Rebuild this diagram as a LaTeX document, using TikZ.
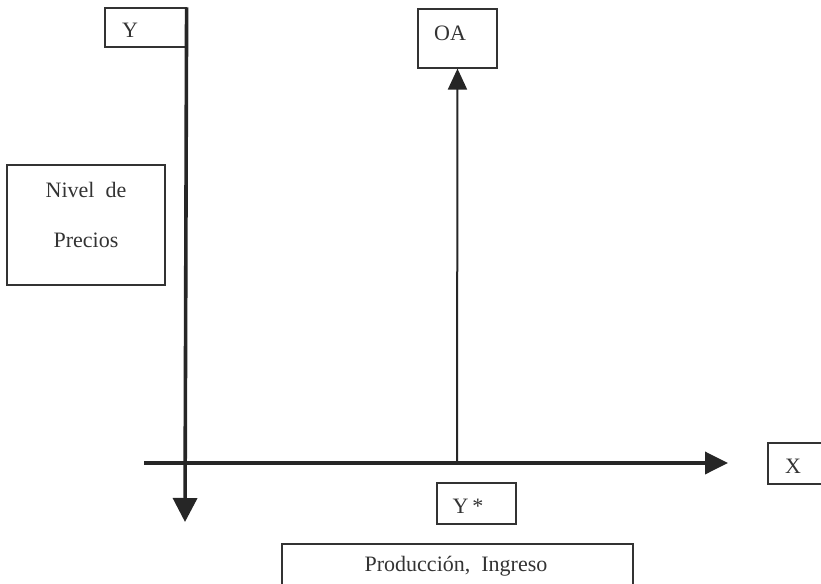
\documentclass[tikz,border=0pt]{standalone}
\usepackage{fontspec}
\setmainfont{Liberation Serif}
\usetikzlibrary{arrows.meta}
\begin{document}
\begin{tikzpicture}[x=1pt,y=-1pt,
  box/.style={draw=black!80,line width=1.2pt,rectangle,inner sep=0pt},
  lbl/.style={inner sep=0pt,font=\fontsize{22}{26}\selectfont,text=black!80},
  axis/.style={line width=3.6pt,draw=black!85},
  thin/.style={line width=2pt,draw=black!85}]
\useasboundingbox (0,0) rectangle (821,583);
% boxes
\node[box,minimum width=81pt,minimum height=39pt] (ybox) at (145.5,27.5) {};
\node[box,minimum width=79pt,minimum height=59pt] (oabox) at (457.5,38.5) {};
\node[box,minimum width=158pt,minimum height=120pt] (nivel) at (86,225) {};
\node[box,minimum width=62pt,minimum height=41pt] (xbox) at (799,463.5) {};
\node[box,minimum width=79pt,minimum height=41pt] (ystar) at (476.5,503.5) {};
\node[box,minimum width=351pt,minimum height=51pt] (prod) at (457.5,569.5) {};
% labels
\node[lbl] (ylbl) at (130,30.5) {Y};
\node[lbl] (oalbl) at (450,33) {OA};
\node[lbl] (nivl1) at (86,190) {Nivel\ \ de};
\node[lbl] (nivl2) at (86,240) {Precios};
\node[lbl] (xlbl) at (793,466.5) {X};
\node[lbl] (yslbl) at (468,506) {Y\,*};
\node[lbl] (prodlbl) at (456,566.5) {Producción,\ \ Ingreso};
% axes
\coordinate (ybot) at (185,522);
\coordinate (xleft) at (144,463);
\coordinate (xright) at (728,463);
\coordinate (oabase) at (457,463);
\draw[axis,-{Triangle[length=24pt,width=24pt]}] (ybox.north east) -- (ybot);
\draw[axis,-{Triangle[length=23pt,width=22pt]}] (xleft) -- (xright);
\draw[thin,-{Triangle[length=21pt,width=19pt]}] (oabase) -- (oabox.south);
\end{tikzpicture}
\end{document}
